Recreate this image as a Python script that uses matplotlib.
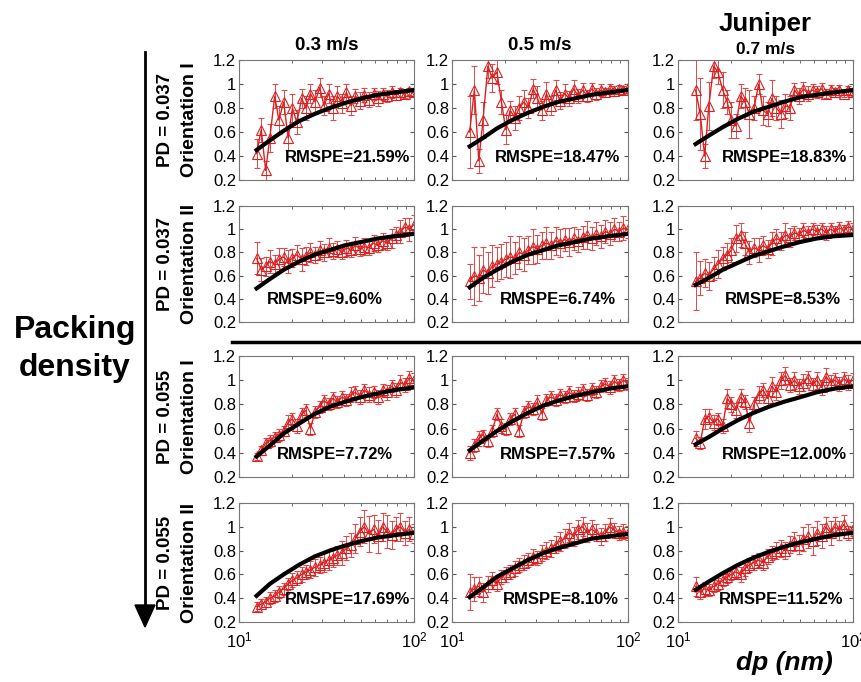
import matplotlib
matplotlib.use("Agg")
import matplotlib.pyplot as plt
from matplotlib.ticker import NullFormatter, LogFormatterSciNotation
import numpy as np

plt.rcParams['font.family'] = ['Liberation Sans', 'DejaVu Sans']
plt.rcParams['mathtext.fontset'] = 'custom'
plt.rcParams['mathtext.rm'] = 'Liberation Sans'
plt.rcParams['mathtext.default'] = 'regular'

# Particle diameter bins (nm)
dp = [12.6, 13.4, 14.2, 15.0, 16.0, 16.9, 18.0, 19.1, 20.2, 21.4, 22.8, 24.1,
      25.6, 27.2, 28.9, 30.6, 32.5, 34.4, 36.5, 38.8, 41.1, 43.7, 46.3, 49.1,
      52.1, 55.3, 58.7, 62.3, 66.1, 70.1, 74.4, 78.9, 83.7, 88.8, 94.2, 100.0]

# Measured penetration, rows = PD/orientation, cols = velocity
pen_r1c1 = [0.42, 0.62, 0.28, 0.55, 0.90, 0.70, 0.85, 0.55, 0.80, 0.68, 0.88, 0.80,
            0.92, 0.85, 0.97, 0.82, 0.92, 0.80, 0.90, 0.84, 0.93, 0.82, 0.90, 0.86,
            0.91, 0.87, 0.92, 0.88, 0.92, 0.90, 0.93, 0.91, 0.93, 0.92, 0.94, 0.93]
pen_r1c2 = [0.60, 0.95, 0.36, 0.70, 1.15, 1.05, 1.10, 0.85, 0.62, 0.78, 0.72, 0.80,
            0.85, 0.80, 0.96, 0.88, 0.78, 0.92, 0.82, 0.95, 0.86, 0.92, 0.88, 0.96,
            0.90, 0.95, 0.90, 0.96, 0.92, 0.95, 0.93, 0.96, 0.94, 0.96, 0.95, 0.97]
pen_r1c3 = [0.95, 0.75, 0.40, 0.82, 1.15, 1.10, 0.95, 0.85, 0.70, 0.65, 0.90, 0.85,
            0.75, 0.80, 1.00, 0.78, 0.75, 0.88, 0.80, 0.75, 0.82, 0.80, 0.95, 0.90,
            0.96, 0.92, 0.95, 0.93, 0.96, 0.92, 0.95, 0.93, 0.95, 0.92, 0.95, 0.93]
pen_r2c1 = [0.75, 0.65, 0.68, 0.72, 0.70, 0.74, 0.76, 0.72, 0.75, 0.78, 0.74, 0.77,
            0.80, 0.78, 0.82, 0.80, 0.84, 0.81, 0.83, 0.80, 0.84, 0.82, 0.86, 0.83,
            0.85, 0.84, 0.88, 0.86, 0.90, 0.88, 0.92, 0.95, 0.98, 1.02, 1.00, 1.04]
pen_r2c2 = [0.55, 0.60, 0.58, 0.65, 0.62, 0.68, 0.70, 0.72, 0.74, 0.76, 0.75, 0.80,
            0.78, 0.82, 0.85, 0.83, 0.86, 0.88, 0.86, 0.90, 0.88, 0.91, 0.89, 0.92,
            0.90, 0.93, 0.95, 0.92, 0.96, 0.94, 0.98, 0.96, 1.00, 0.98, 1.01, 1.00]
pen_r2c3 = [0.55, 0.58, 0.62, 0.60, 0.66, 0.70, 0.75, 0.78, 0.82, 0.92, 0.95, 0.88,
            0.80, 0.84, 0.82, 0.86, 0.83, 0.88, 0.92, 0.90, 0.95, 0.93, 0.97, 0.95,
            0.99, 0.97, 1.00, 0.98, 1.00, 0.97, 1.00, 0.98, 1.01, 0.99, 1.02, 1.00]
pen_r3c1 = [0.37, 0.42, 0.48, 0.50, 0.53, 0.55, 0.58, 0.65, 0.68, 0.62, 0.72, 0.75,
            0.60, 0.74, 0.78, 0.83, 0.80, 0.85, 0.82, 0.86, 0.84, 0.88, 0.90, 0.86,
            0.92, 0.88, 0.90, 0.86, 0.92, 0.90, 0.95, 0.92, 0.98, 0.96, 1.02, 1.00]
pen_r3c2 = [0.40, 0.46, 0.52, 0.55, 0.50, 0.58, 0.72, 0.62, 0.60, 0.68, 0.72, 0.58,
            0.74, 0.78, 0.76, 0.82, 0.72, 0.84, 0.86, 0.84, 0.88, 0.86, 0.90, 0.87,
            0.89, 0.92, 0.88, 0.93, 0.90, 0.95, 0.97, 0.94, 0.99, 0.96, 1.00, 0.97]
pen_r3c3 = [0.52, 0.48, 0.68, 0.70, 0.65, 0.68, 0.62, 0.85, 0.80, 0.75, 0.86, 0.82,
            0.65, 0.80, 0.88, 0.92, 0.85, 0.95, 0.90, 1.00, 1.04, 0.96, 1.00, 0.95,
            0.98, 1.02, 0.96, 1.00, 0.94, 1.03, 0.98, 1.00, 0.97, 1.01, 0.98, 1.00]
pen_r4c1 = [0.33, 0.35, 0.37, 0.40, 0.42, 0.45, 0.48, 0.52, 0.55, 0.57, 0.60, 0.62,
            0.64, 0.66, 0.68, 0.70, 0.72, 0.74, 0.76, 0.78, 0.82, 0.85, 0.90, 0.96,
            1.00, 0.94, 0.98, 0.92, 1.00, 0.96, 0.93, 0.98, 1.00, 0.95, 0.98, 0.94]
pen_r4c2 = [0.45, 0.48, 0.50, 0.45, 0.52, 0.55, 0.52, 0.58, 0.60, 0.62, 0.65, 0.68,
            0.70, 0.72, 0.75, 0.74, 0.78, 0.80, 0.82, 0.85, 0.88, 0.90, 0.95, 0.92,
            0.98, 1.00, 0.95, 0.98, 0.95, 0.92, 0.95, 1.00, 0.97, 0.95, 0.96, 0.95]
pen_r4c3 = [0.50, 0.45, 0.48, 0.47, 0.50, 0.52, 0.55, 0.58, 0.60, 0.62, 0.60, 0.65,
            0.68, 0.70, 0.72, 0.70, 0.75, 0.78, 0.80, 0.82, 0.80, 0.85, 0.88, 0.85,
            0.90, 0.92, 0.88, 0.95, 0.92, 1.00, 0.95, 1.00, 0.97, 1.02, 0.95, 0.98]

# Error bar half-widths
err_r1c1 = [0.12, 0.10, 0.08, 0.12, 0.10, 0.12, 0.10, 0.10, 0.12, 0.10, 0.08, 0.10,
            0.08, 0.10, 0.08, 0.08, 0.08, 0.10, 0.08, 0.08, 0.07, 0.08, 0.06, 0.07,
            0.06, 0.06, 0.05, 0.06, 0.05, 0.05, 0.05, 0.04, 0.04, 0.04, 0.03, 0.03]
err_r1c2 = [0.30, 0.20, 0.10, 0.15, 0.10, 0.12, 0.10, 0.10, 0.12, 0.08, 0.10, 0.10,
            0.10, 0.08, 0.08, 0.10, 0.08, 0.10, 0.08, 0.08, 0.07, 0.08, 0.06, 0.07,
            0.06, 0.06, 0.05, 0.05, 0.05, 0.05, 0.04, 0.04, 0.04, 0.03, 0.03, 0.03]
err_r1c3 = [0.25, 0.30, 0.10, 0.20, 0.10, 0.10, 0.15, 0.10, 0.15, 0.10, 0.10, 0.12,
            0.20, 0.10, 0.08, 0.12, 0.10, 0.15, 0.10, 0.12, 0.10, 0.10, 0.06, 0.07,
            0.06, 0.06, 0.05, 0.05, 0.05, 0.04, 0.04, 0.04, 0.04, 0.03, 0.03, 0.03]
err_r2c1 = [0.14, 0.10, 0.08, 0.10, 0.08, 0.10, 0.08, 0.10, 0.08, 0.08, 0.10, 0.08,
            0.08, 0.07, 0.08, 0.07, 0.08, 0.07, 0.07, 0.06, 0.07, 0.06, 0.07, 0.06,
            0.07, 0.06, 0.07, 0.06, 0.07, 0.06, 0.08, 0.07, 0.10, 0.08, 0.10, 0.08]
err_r2c2 = [0.15, 0.25, 0.20, 0.20, 0.18, 0.18, 0.15, 0.15, 0.15, 0.18, 0.14, 0.14,
            0.14, 0.12, 0.15, 0.12, 0.12, 0.14, 0.12, 0.12, 0.12, 0.10, 0.12, 0.10,
            0.10, 0.10, 0.12, 0.10, 0.10, 0.10, 0.10, 0.10, 0.10, 0.08, 0.10, 0.08]
err_r2c3 = [0.25, 0.15, 0.12, 0.12, 0.10, 0.12, 0.10, 0.10, 0.10, 0.12, 0.10, 0.10,
            0.10, 0.08, 0.10, 0.08, 0.08, 0.10, 0.08, 0.08, 0.10, 0.08, 0.06, 0.06,
            0.06, 0.06, 0.05, 0.06, 0.05, 0.06, 0.05, 0.05, 0.05, 0.05, 0.05, 0.05]
err_r3c1 = [0.03, 0.04, 0.04, 0.05, 0.04, 0.05, 0.04, 0.06, 0.05, 0.06, 0.05, 0.05,
            0.05, 0.05, 0.05, 0.05, 0.05, 0.05, 0.05, 0.05, 0.05, 0.06, 0.05, 0.06,
            0.05, 0.06, 0.05, 0.06, 0.05, 0.06, 0.05, 0.06, 0.06, 0.06, 0.06, 0.06]
err_r3c2 = [0.06, 0.05, 0.06, 0.04, 0.05, 0.05, 0.05, 0.06, 0.05, 0.05, 0.05, 0.05,
            0.05, 0.05, 0.05, 0.06, 0.05, 0.05, 0.05, 0.05, 0.05, 0.05, 0.05, 0.05,
            0.05, 0.05, 0.05, 0.05, 0.05, 0.05, 0.05, 0.05, 0.05, 0.05, 0.05, 0.05]
err_r3c3 = [0.06, 0.05, 0.08, 0.06, 0.06, 0.05, 0.06, 0.08, 0.06, 0.06, 0.07, 0.06,
            0.08, 0.06, 0.07, 0.06, 0.06, 0.08, 0.06, 0.07, 0.07, 0.06, 0.07, 0.06,
            0.07, 0.06, 0.06, 0.07, 0.06, 0.07, 0.06, 0.06, 0.06, 0.06, 0.06, 0.06]
err_r4c1 = [0.04, 0.04, 0.04, 0.05, 0.05, 0.05, 0.05, 0.05, 0.06, 0.06, 0.06, 0.06,
            0.07, 0.07, 0.07, 0.08, 0.08, 0.08, 0.08, 0.10, 0.10, 0.10, 0.12, 0.12,
            0.14, 0.15, 0.12, 0.14, 0.12, 0.14, 0.12, 0.10, 0.12, 0.10, 0.10, 0.08]
err_r4c2 = [0.15, 0.10, 0.08, 0.08, 0.07, 0.07, 0.06, 0.06, 0.06, 0.06, 0.06, 0.06,
            0.06, 0.06, 0.06, 0.06, 0.07, 0.07, 0.07, 0.07, 0.08, 0.08, 0.08, 0.08,
            0.08, 0.08, 0.08, 0.08, 0.07, 0.07, 0.07, 0.07, 0.06, 0.06, 0.06, 0.06]
err_r4c3 = [0.08, 0.06, 0.06, 0.05, 0.05, 0.05, 0.05, 0.05, 0.05, 0.05, 0.06, 0.06,
            0.06, 0.06, 0.06, 0.06, 0.06, 0.06, 0.07, 0.07, 0.07, 0.07, 0.08, 0.08,
            0.10, 0.10, 0.12, 0.10, 0.10, 0.08, 0.10, 0.08, 0.08, 0.08, 0.06, 0.06]

# Model fit curves, read at these diameters
fit_dp = [12.6, 15, 18, 22, 27, 33, 40, 50, 62, 78, 100]
fit_r1c1 = [0.45, 0.53, 0.61, 0.69, 0.75, 0.80, 0.84, 0.88, 0.91, 0.93, 0.95]
fit_r1c2 = [0.48, 0.55, 0.63, 0.70, 0.76, 0.81, 0.85, 0.88, 0.91, 0.93, 0.95]
fit_r1c3 = [0.50, 0.57, 0.64, 0.71, 0.77, 0.81, 0.85, 0.89, 0.91, 0.93, 0.95]
fit_r2c1 = [0.49, 0.57, 0.65, 0.72, 0.78, 0.82, 0.86, 0.89, 0.92, 0.94, 0.96]
fit_r2c2 = [0.50, 0.58, 0.65, 0.72, 0.78, 0.82, 0.86, 0.89, 0.92, 0.94, 0.96]
fit_r2c3 = [0.52, 0.58, 0.65, 0.71, 0.77, 0.81, 0.85, 0.89, 0.92, 0.94, 0.95]
fit_r3c1 = [0.37, 0.46, 0.56, 0.64, 0.72, 0.78, 0.82, 0.86, 0.89, 0.92, 0.94]
fit_r3c2 = [0.42, 0.50, 0.58, 0.66, 0.73, 0.79, 0.83, 0.87, 0.90, 0.93, 0.95]
fit_r3c3 = [0.47, 0.53, 0.60, 0.67, 0.73, 0.78, 0.82, 0.86, 0.90, 0.93, 0.95]
fit_r4c1 = [0.42, 0.52, 0.60, 0.68, 0.75, 0.80, 0.84, 0.88, 0.91, 0.93, 0.95]
fit_r4c2 = [0.41, 0.49, 0.58, 0.65, 0.72, 0.78, 0.82, 0.86, 0.90, 0.92, 0.94]
fit_r4c3 = [0.47, 0.54, 0.61, 0.68, 0.74, 0.79, 0.83, 0.87, 0.90, 0.93, 0.95]

rmspe = [["21.59", "18.47", "18.83"],
         ["9.60", "6.74", "8.53"],
         ["7.72", "7.57", "12.00"],
         ["17.69", "8.10", "11.52"]]

col_titles = ["0.3 m/s", "0.5 m/s", "0.7 m/s"]
row_pd = ["PD = 0.037", "PD = 0.037", "PD = 0.055", "PD = 0.055"]
row_orient = ["Orientation I", "Orientation II", "Orientation I", "Orientation II"]

pen = [[pen_r1c1, pen_r1c2, pen_r1c3], [pen_r2c1, pen_r2c2, pen_r2c3],
       [pen_r3c1, pen_r3c2, pen_r3c3], [pen_r4c1, pen_r4c2, pen_r4c3]]
err = [[err_r1c1, err_r1c2, err_r1c3], [err_r2c1, err_r2c2, err_r2c3],
       [err_r3c1, err_r3c2, err_r3c3], [err_r4c1, err_r4c2, err_r4c3]]
fit = [[fit_r1c1, fit_r1c2, fit_r1c3], [fit_r2c1, fit_r2c2, fit_r2c3],
       [fit_r3c1, fit_r3c2, fit_r3c3], [fit_r4c1, fit_r4c2, fit_r4c3]]

# layout in pixels
W, H = 861, 682
col_x = [(239, 414), (452, 628), (678, 853)]
row_y = [(60, 180), (206, 322), (356, 477), (503, 622)]
txt_x = [[0.62, 0.60, 0.61], [0.49, 0.60, 0.60], [0.55, 0.60, 0.61], [0.62, 0.62, 0.59]]

red = '#dc2020'

fig = plt.figure(figsize=(W / 100, H / 100), dpi=100)

for r in range(4):
    for c in range(3):
        x0, x1 = col_x[c]
        y0, y1 = row_y[r]
        ax = fig.add_axes([x0 / W, 1 - y1 / H, (x1 - x0) / W, (y1 - y0) / H])
        ax.errorbar(dp, pen[r][c], yerr=err[r][c], color=red, ecolor='#e04a4a',
                    marker='^', mfc='none', mec=red, ms=7, mew=0.8, lw=1.0,
                    elinewidth=0.7, capsize=2.5, capthick=0.7, zorder=2)
        ax.plot(fit_dp, fit[r][c], color='black', lw=3, zorder=3)
        ax.set_xscale('log')
        ax.set_xlim(10, 100)
        ax.set_ylim(0.2, 1.2)
        ax.set_yticks([0.2, 0.4, 0.6, 0.8, 1.0, 1.2])
        ax.set_yticklabels(["0.2", "0.4", "0.6", "0.8", "1", "1.2"])
        ax.xaxis.set_minor_formatter(NullFormatter())
        ax.tick_params(which='both', direction='in', top=True, right=True,
                       labelsize=12, color='#555555', pad=2)
        ax.tick_params(which='major', length=3)
        ax.tick_params(which='minor', length=2)
        if r < 3:
            ax.tick_params(labelbottom=False)
        else:
            ax.set_xticks([10, 100])
            ax.xaxis.set_major_formatter(LogFormatterSciNotation())
            ax.tick_params(axis='x', pad=6)
        for s in ax.spines.values():
            s.set_color('#777777')
            s.set_linewidth(0.8)
        ax.text(txt_x[r][c], 0.19, "RMSPE=" + rmspe[r][c] + "%", transform=ax.transAxes,
                ha='center', va='center', fontsize=12, fontweight='bold', zorder=5)

# overlay for annotations, in pixel coordinates
ov = fig.add_axes([0, 0, 1, 1], facecolor='none')
ov.set_xlim(0, W)
ov.set_ylim(H, 0)
ov.axis('off')

ov.plot([145, 145], [52, 608], color='black', lw=2)
ov.fill([135, 155, 145], [605, 605, 627], color='black')
ov.plot([232, 861], [342, 342], color='black', lw=2.5)

ov.text(75, 330, "Packing", ha='center', va='center', fontsize=23, fontweight='bold')
ov.text(75, 368, "density", ha='center', va='center', fontsize=23, fontweight='bold')

for c, t in enumerate(col_titles):
    cx = (col_x[c][0] + col_x[c][1]) / 2
    if c < 2:
        ov.text(cx, 45, t, ha='center', va='center', fontsize=13.5, fontweight='bold')
    else:
        ov.text(cx, 24, "Juniper", ha='center', va='center', fontsize=18.5, fontweight='bold')
        ov.text(cx, 49, t, ha='center', va='center', fontsize=12.5, fontweight='bold')

for r in range(4):
    cy = (row_y[r][0] + row_y[r][1]) / 2
    ov.text(166, cy, row_pd[r], rotation=90, ha='center', va='center',
            fontsize=13.5, fontweight='bold')
    ov.text(189, cy, row_orient[r], rotation=90, ha='center', va='center',
            fontsize=14, fontweight='bold')

ov.text(784, 663, "dp (nm)", ha='center', va='center', fontsize=19,
        fontweight='bold', style='italic')

fig.savefig("out.png", dpi=100)
